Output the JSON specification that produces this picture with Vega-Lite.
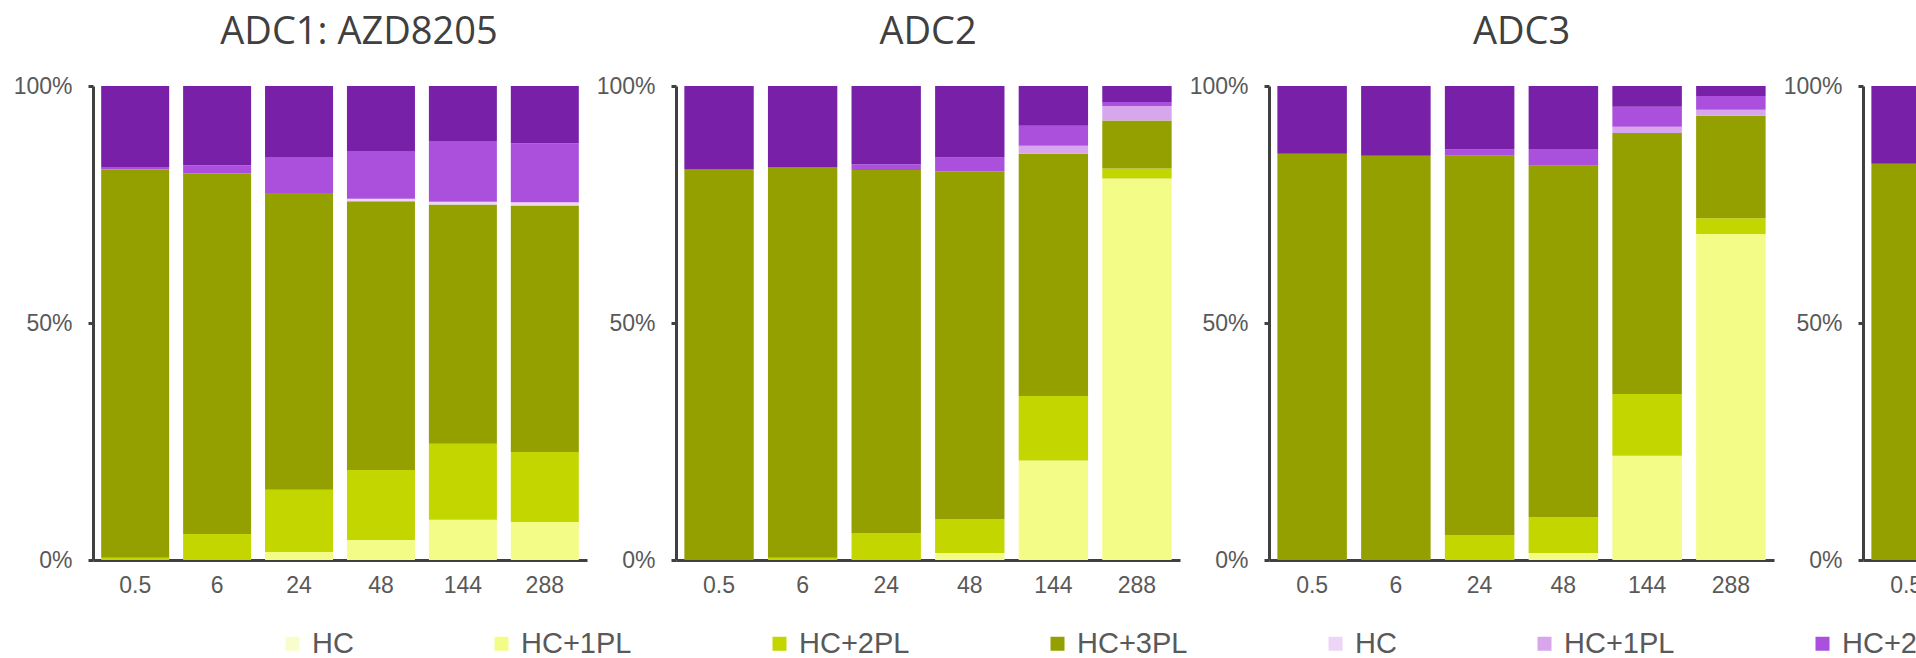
{
  "$schema": "https://vega.github.io/schema/vega-lite/v6.json",
  "background": "white",
  "padding": {"left": 13, "top": 14, "right": 0, "bottom": 0},
  "spacing": 9,
  "data": {"values": [
    {"adc": "ADC1", "t": "0.5", "s": "g:HC+2PL", "k": 3, "pct": 0.5},
    {"adc": "ADC1", "t": "0.5", "s": "g:HC+3PL", "k": 4, "pct": 81.9},
    {"adc": "ADC1", "t": "0.5", "s": "p:HC+2PL", "k": 7, "pct": 0.5},
    {"adc": "ADC1", "t": "0.5", "s": "p:HC+3PL", "k": 8, "pct": 17.1},
    {"adc": "ADC1", "t": "6", "s": "g:HC+2PL", "k": 3, "pct": 5.5},
    {"adc": "ADC1", "t": "6", "s": "g:HC+3PL", "k": 4, "pct": 76.1},
    {"adc": "ADC1", "t": "6", "s": "p:HC+2PL", "k": 7, "pct": 1.7},
    {"adc": "ADC1", "t": "6", "s": "p:HC+3PL", "k": 8, "pct": 16.7},
    {"adc": "ADC1", "t": "24", "s": "g:HC+1PL", "k": 2, "pct": 1.7},
    {"adc": "ADC1", "t": "24", "s": "g:HC+2PL", "k": 3, "pct": 13.1},
    {"adc": "ADC1", "t": "24", "s": "g:HC+3PL", "k": 4, "pct": 62.6},
    {"adc": "ADC1", "t": "24", "s": "p:HC+2PL", "k": 7, "pct": 7.6},
    {"adc": "ADC1", "t": "24", "s": "p:HC+3PL", "k": 8, "pct": 15.0},
    {"adc": "ADC1", "t": "48", "s": "g:HC+1PL", "k": 2, "pct": 4.2},
    {"adc": "ADC1", "t": "48", "s": "g:HC+2PL", "k": 3, "pct": 14.8},
    {"adc": "ADC1", "t": "48", "s": "g:HC+3PL", "k": 4, "pct": 56.7},
    {"adc": "ADC1", "t": "48", "s": "p:HC", "k": 5, "pct": 0.5},
    {"adc": "ADC1", "t": "48", "s": "p:HC+2PL", "k": 7, "pct": 10.1},
    {"adc": "ADC1", "t": "48", "s": "p:HC+3PL", "k": 8, "pct": 13.7},
    {"adc": "ADC1", "t": "144", "s": "g:HC+1PL", "k": 2, "pct": 8.5},
    {"adc": "ADC1", "t": "144", "s": "g:HC+2PL", "k": 3, "pct": 16.0},
    {"adc": "ADC1", "t": "144", "s": "g:HC+3PL", "k": 4, "pct": 50.5},
    {"adc": "ADC1", "t": "144", "s": "p:HC", "k": 5, "pct": 0.6},
    {"adc": "ADC1", "t": "144", "s": "p:HC+2PL", "k": 7, "pct": 12.8},
    {"adc": "ADC1", "t": "144", "s": "p:HC+3PL", "k": 8, "pct": 11.6},
    {"adc": "ADC1", "t": "288", "s": "g:HC+1PL", "k": 2, "pct": 8.0},
    {"adc": "ADC1", "t": "288", "s": "g:HC+2PL", "k": 3, "pct": 14.8},
    {"adc": "ADC1", "t": "288", "s": "g:HC+3PL", "k": 4, "pct": 52.0},
    {"adc": "ADC1", "t": "288", "s": "p:HC", "k": 5, "pct": 0.7},
    {"adc": "ADC1", "t": "288", "s": "p:HC+2PL", "k": 7, "pct": 12.4},
    {"adc": "ADC1", "t": "288", "s": "p:HC+3PL", "k": 8, "pct": 12.1},

    {"adc": "ADC2", "t": "0.5", "s": "g:HC+3PL", "k": 4, "pct": 82.4},
    {"adc": "ADC2", "t": "0.5", "s": "p:HC+3PL", "k": 8, "pct": 17.6},
    {"adc": "ADC2", "t": "6", "s": "g:HC+2PL", "k": 3, "pct": 0.5},
    {"adc": "ADC2", "t": "6", "s": "g:HC+3PL", "k": 4, "pct": 82.3},
    {"adc": "ADC2", "t": "6", "s": "p:HC+3PL", "k": 8, "pct": 17.2},
    {"adc": "ADC2", "t": "24", "s": "g:HC+2PL", "k": 3, "pct": 5.7},
    {"adc": "ADC2", "t": "24", "s": "g:HC+3PL", "k": 4, "pct": 76.6},
    {"adc": "ADC2", "t": "24", "s": "p:HC+2PL", "k": 7, "pct": 1.2},
    {"adc": "ADC2", "t": "24", "s": "p:HC+3PL", "k": 8, "pct": 16.5},
    {"adc": "ADC2", "t": "48", "s": "g:HC+1PL", "k": 2, "pct": 1.5},
    {"adc": "ADC2", "t": "48", "s": "g:HC+2PL", "k": 3, "pct": 7.1},
    {"adc": "ADC2", "t": "48", "s": "g:HC+3PL", "k": 4, "pct": 73.4},
    {"adc": "ADC2", "t": "48", "s": "p:HC+2PL", "k": 7, "pct": 2.9},
    {"adc": "ADC2", "t": "48", "s": "p:HC+3PL", "k": 8, "pct": 15.1},
    {"adc": "ADC2", "t": "144", "s": "g:HC+1PL", "k": 2, "pct": 21.0},
    {"adc": "ADC2", "t": "144", "s": "g:HC+2PL", "k": 3, "pct": 13.6},
    {"adc": "ADC2", "t": "144", "s": "g:HC+3PL", "k": 4, "pct": 51.1},
    {"adc": "ADC2", "t": "144", "s": "p:HC+1PL", "k": 6, "pct": 1.7},
    {"adc": "ADC2", "t": "144", "s": "p:HC+2PL", "k": 7, "pct": 4.2},
    {"adc": "ADC2", "t": "144", "s": "p:HC+3PL", "k": 8, "pct": 8.4},
    {"adc": "ADC2", "t": "288", "s": "g:HC+1PL", "k": 2, "pct": 80.5},
    {"adc": "ADC2", "t": "288", "s": "g:HC+2PL", "k": 3, "pct": 2.1},
    {"adc": "ADC2", "t": "288", "s": "g:HC+3PL", "k": 4, "pct": 10.1},
    {"adc": "ADC2", "t": "288", "s": "p:HC+1PL", "k": 6, "pct": 3.1},
    {"adc": "ADC2", "t": "288", "s": "p:HC+2PL", "k": 7, "pct": 0.8},
    {"adc": "ADC2", "t": "288", "s": "p:HC+3PL", "k": 8, "pct": 3.4},

    {"adc": "ADC3", "t": "0.5", "s": "g:HC+3PL", "k": 4, "pct": 85.7},
    {"adc": "ADC3", "t": "0.5", "s": "p:HC+3PL", "k": 8, "pct": 14.3},
    {"adc": "ADC3", "t": "6", "s": "g:HC+3PL", "k": 4, "pct": 85.3},
    {"adc": "ADC3", "t": "6", "s": "p:HC+3PL", "k": 8, "pct": 14.7},
    {"adc": "ADC3", "t": "24", "s": "g:HC+2PL", "k": 3, "pct": 5.2},
    {"adc": "ADC3", "t": "24", "s": "g:HC+3PL", "k": 4, "pct": 80.1},
    {"adc": "ADC3", "t": "24", "s": "p:HC+2PL", "k": 7, "pct": 1.3},
    {"adc": "ADC3", "t": "24", "s": "p:HC+3PL", "k": 8, "pct": 13.4},
    {"adc": "ADC3", "t": "48", "s": "g:HC+1PL", "k": 2, "pct": 1.5},
    {"adc": "ADC3", "t": "48", "s": "g:HC+2PL", "k": 3, "pct": 7.5},
    {"adc": "ADC3", "t": "48", "s": "g:HC+3PL", "k": 4, "pct": 74.2},
    {"adc": "ADC3", "t": "48", "s": "p:HC+2PL", "k": 7, "pct": 3.5},
    {"adc": "ADC3", "t": "48", "s": "p:HC+3PL", "k": 8, "pct": 13.3},
    {"adc": "ADC3", "t": "144", "s": "g:HC+1PL", "k": 2, "pct": 22.0},
    {"adc": "ADC3", "t": "144", "s": "g:HC+2PL", "k": 3, "pct": 13.0},
    {"adc": "ADC3", "t": "144", "s": "g:HC+3PL", "k": 4, "pct": 55.1},
    {"adc": "ADC3", "t": "144", "s": "p:HC+1PL", "k": 6, "pct": 1.3},
    {"adc": "ADC3", "t": "144", "s": "p:HC+2PL", "k": 7, "pct": 4.2},
    {"adc": "ADC3", "t": "144", "s": "p:HC+3PL", "k": 8, "pct": 4.4},
    {"adc": "ADC3", "t": "288", "s": "g:HC+1PL", "k": 2, "pct": 68.8},
    {"adc": "ADC3", "t": "288", "s": "g:HC+2PL", "k": 3, "pct": 3.3},
    {"adc": "ADC3", "t": "288", "s": "g:HC+3PL", "k": 4, "pct": 21.6},
    {"adc": "ADC3", "t": "288", "s": "p:HC+1PL", "k": 6, "pct": 1.3},
    {"adc": "ADC3", "t": "288", "s": "p:HC+2PL", "k": 7, "pct": 2.9},
    {"adc": "ADC3", "t": "288", "s": "p:HC+3PL", "k": 8, "pct": 2.1},

    {"adc": "ADC4", "t": "0.5", "s": "g:HC+3PL", "k": 4, "pct": 83.6},
    {"adc": "ADC4", "t": "0.5", "s": "p:HC+3PL", "k": 8, "pct": 16.4}
  ]},
  "hconcat": [
    {
      "width": 494, "height": 474,
      "title": {"text": "ADC1: AZD8205", "dx": 19},
      "transform": [{"filter": "datum.adc == 'ADC1'"}],
      "mark": {"type": "bar"},
      "encoding": {
        "x": {"field": "t", "type": "ordinal", "scale": {"domain": ["0.5", "6", "24", "48", "144", "288"], "paddingInner": 0.17, "paddingOuter": 0.1}, "axis": {"title": null, "labelAngle": 0, "ticks": false, "labelPadding": 14}},
        "y": {"field": "pct", "type": "quantitative", "stack": "normalize", "scale": {"domain": [0, 1]}, "axis": {"title": null, "values": [0, 0.5, 1], "format": ".0%", "tickSize": 5, "labelPadding": 16, "grid": false}},
        "color": {"field": "s", "type": "nominal",
          "scale": {"domain": ["g:HC", "g:HC+1PL", "g:HC+2PL", "g:HC+3PL", "p:HC", "p:HC+1PL", "p:HC+2PL", "p:HC+3PL"],
                    "range": ["#F9FCCB", "#F4FC88", "#C4D600", "#94A000", "#EDD5F7", "#D7A6EC", "#AA50DD", "#7820A8"]},
          "legend": {"title": null, "orient": "none", "legendX": 185, "legendY": 543, "direction": "horizontal", "labelExpr": "slice(datum.label, 2)"}},
        "order": {"field": "k", "type": "quantitative"}
      }
    },
    {
      "width": 504, "height": 474,
      "title": {"text": "ADC2"},
      "transform": [{"filter": "datum.adc == 'ADC2'"}],
      "mark": {"type": "bar"},
      "encoding": {
        "x": {"field": "t", "type": "ordinal", "scale": {"domain": ["0.5", "6", "24", "48", "144", "288"], "paddingInner": 0.17, "paddingOuter": 0.1}, "axis": {"title": null, "labelAngle": 0, "ticks": false, "labelPadding": 14}},
        "y": {"field": "pct", "type": "quantitative", "stack": "normalize", "scale": {"domain": [0, 1]}, "axis": {"title": null, "values": [0, 0.5, 1], "format": ".0%", "tickSize": 5, "labelPadding": 16, "grid": false}},
        "color": {"field": "s", "type": "nominal",
          "scale": {"domain": ["g:HC", "g:HC+1PL", "g:HC+2PL", "g:HC+3PL", "p:HC", "p:HC+1PL", "p:HC+2PL", "p:HC+3PL"],
                    "range": ["#F9FCCB", "#F4FC88", "#C4D600", "#94A000", "#EDD5F7", "#D7A6EC", "#AA50DD", "#7820A8"]},
          "legend": {"title": null, "orient": "none", "legendX": 185, "legendY": 543, "direction": "horizontal", "labelExpr": "slice(datum.label, 2)"}},
        "order": {"field": "k", "type": "quantitative"}
      }
    },
    {
      "width": 505, "height": 474,
      "title": {"text": "ADC3"},
      "transform": [{"filter": "datum.adc == 'ADC3'"}],
      "mark": {"type": "bar"},
      "encoding": {
        "x": {"field": "t", "type": "ordinal", "scale": {"domain": ["0.5", "6", "24", "48", "144", "288"], "paddingInner": 0.17, "paddingOuter": 0.1}, "axis": {"title": null, "labelAngle": 0, "ticks": false, "labelPadding": 14}},
        "y": {"field": "pct", "type": "quantitative", "stack": "normalize", "scale": {"domain": [0, 1]}, "axis": {"title": null, "values": [0, 0.5, 1], "format": ".0%", "tickSize": 5, "labelPadding": 16, "grid": false}},
        "color": {"field": "s", "type": "nominal",
          "scale": {"domain": ["g:HC", "g:HC+1PL", "g:HC+2PL", "g:HC+3PL", "p:HC", "p:HC+1PL", "p:HC+2PL", "p:HC+3PL"],
                    "range": ["#F9FCCB", "#F4FC88", "#C4D600", "#94A000", "#EDD5F7", "#D7A6EC", "#AA50DD", "#7820A8"]},
          "legend": {"title": null, "orient": "none", "legendX": 185, "legendY": 543, "direction": "horizontal", "labelExpr": "slice(datum.label, 2)"}},
        "order": {"field": "k", "type": "quantitative"}
      }
    },
    {
      "width": 505, "height": 474,
      "title": {"text": "ADC4"},
      "transform": [{"filter": "datum.adc == 'ADC4'"}],
      "mark": {"type": "bar"},
      "encoding": {
        "x": {"field": "t", "type": "ordinal", "scale": {"domain": ["0.5", "6", "24", "48", "144", "288"], "paddingInner": 0.17, "paddingOuter": 0.1}, "axis": {"title": null, "labelAngle": 0, "ticks": false, "labelPadding": 14}},
        "y": {"field": "pct", "type": "quantitative", "stack": "normalize", "scale": {"domain": [0, 1]}, "axis": {"title": null, "values": [0, 0.5, 1], "format": ".0%", "tickSize": 5, "labelPadding": 16, "grid": false}},
        "color": {"field": "s", "type": "nominal",
          "scale": {"domain": ["g:HC", "g:HC+1PL", "g:HC+2PL", "g:HC+3PL", "p:HC", "p:HC+1PL", "p:HC+2PL", "p:HC+3PL"],
                    "range": ["#F9FCCB", "#F4FC88", "#C4D600", "#94A000", "#EDD5F7", "#D7A6EC", "#AA50DD", "#7820A8"]},
          "legend": {"title": null, "orient": "none", "legendX": 185, "legendY": 543, "direction": "horizontal", "labelExpr": "slice(datum.label, 2)"}},
        "order": {"field": "k", "type": "quantitative"}
      }
    }
  ],
  "resolve": {"scale": {"x": "independent", "y": "independent", "color": "shared"}},
  "config": {
    "font": "Liberation Sans",
    "view": {"stroke": null},
    "title": {"font": "Open Sans", "fontSize": 38, "fontWeight": "normal", "color": "#404040", "anchor": "middle", "offset": 23, "baseline": "alphabetic"},
    "axis": {"labelFont": "Liberation Sans", "labelFontSize": 23, "labelColor": "#595959", "domainColor": "#404040", "domainWidth": 3, "tickColor": "#404040", "tickWidth": 3, "grid": false},
    "legend": {"symbolType": "square", "symbolSize": 196, "symbolStrokeWidth": 0, "labelFont": "Liberation Sans", "labelFontSize": 29, "labelColor": "#595959", "columnPadding": 133, "labelOffset": 5, "padding": 0, "labelLimit": 400}
  }
}
